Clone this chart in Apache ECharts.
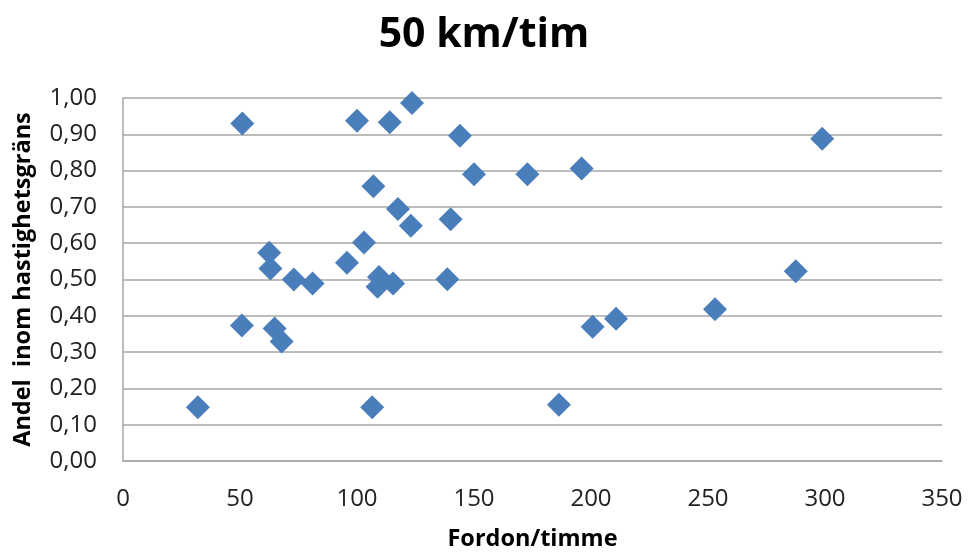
<!DOCTYPE html>
<html>
<head>
<meta charset="utf-8">
<script src="https://cdn.jsdelivr.net/npm/echarts@6/dist/echarts.min.js"></script>
<style>html,body{margin:0;padding:0;background:#fff}#c{width:968px;height:556px}</style>
</head>
<body>
<div id="c"></div>
<script>
var titleText = "50 km/tim";
var xName = "Fordon/timme";
var yName = "Andel  inom hastighetsgräns";
var xValues = [51, 100, 114, 123.5, 144, 150, 107, 117.5, 123, 140, 103, 95.7, 62.5, 63, 73, 81, 109.4, 108.8, 115.4, 138.6, 50.8, 64.8, 67.8, 32, 106.5, 172.8, 196, 298.8, 287.5, 253, 210.7, 200.7, 186.3];
var yValues = [0.930, 0.937, 0.933, 0.986, 0.896, 0.790, 0.757, 0.694, 0.648, 0.666, 0.602, 0.546, 0.574, 0.530, 0.500, 0.489, 0.507, 0.480, 0.489, 0.501, 0.373, 0.365, 0.329, 0.148, 0.148, 0.790, 0.806, 0.888, 0.523, 0.418, 0.392, 0.370, 0.155];
var points = xValues.map(function (x, i) { return [x, yValues[i]]; });
var fontFam = "'Open Sans', 'Liberation Sans', sans-serif";
var chart = echarts.init(document.getElementById('c'), null, {renderer: 'canvas'});
chart.setOption({
  animation: false,
  backgroundColor: '#ffffff',
  title: {
    text: titleText, left: 'center', top: 10,
    textStyle: {fontFamily: fontFam, fontSize: 41, fontWeight: 'bold', color: '#000'}
  },
  grid: {left: 123, right: 26, top: 98, bottom: 94, containLabel: false},
  xAxis: {
    type: 'value', min: 0, max: 350, interval: 50,
    name: xName, nameLocation: 'middle', nameGap: 66,
    nameTextStyle: {fontFamily: fontFam, fontSize: 23.5, fontWeight: 'bold', color: '#000'},
    axisLine: {show: true, lineStyle: {color: '#a6a6a6', width: 1.5}},
    axisTick: {show: false},
    splitLine: {show: false},
    axisLabel: {margin: 26, fontFamily: fontFam, fontSize: 24, color: '#222'}
  },
  yAxis: {
    type: 'value', min: 0, max: 1, interval: 0.1,
    name: yName, nameLocation: 'middle', nameGap: 88,
    nameTextStyle: {fontFamily: fontFam, fontSize: 23.5, fontWeight: 'bold', color: '#000'},
    axisLine: {show: true, lineStyle: {color: '#a6a6a6', width: 1.5}},
    axisTick: {show: false},
    splitLine: {show: true, lineStyle: {color: '#a6a6a6', width: 1.5}},
    axisLabel: {margin: 26, fontFamily: fontFam, fontSize: 24, color: '#222',
      formatter: function (v) { return v.toFixed(2).replace('.', ','); }}
  },
  series: [{
    type: 'scatter', data: points, symbol: 'diamond', symbolSize: [24, 24],
    itemStyle: {color: '#4a7ebb', opacity: 1}
  }]
});
</script>
</body>
</html>
